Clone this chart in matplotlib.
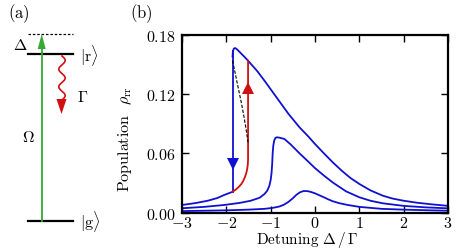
import numpy as np
import matplotlib
matplotlib.use("Agg")
import matplotlib.pyplot as plt
from matplotlib.patches import Polygon

plt.rcParams['font.family'] = ['cmr10', 'DejaVu Serif']
plt.rcParams['mathtext.fontset'] = 'cm'
plt.rcParams['axes.unicode_minus'] = False

BLUE = '#1010d0'
RED = '#d01010'
GREEN = '#33aa33'

# --- values ---
# strongest drive: lower stable branch, jump-up (red), upper branch
low_d = [-3.0, -2.7, -2.42, -2.2, -2.05, -1.95, -1.86]
low_r = [0.0077, 0.0096, 0.012, 0.0148, 0.0178, 0.0195, 0.0210]
red_d = [-1.86, -1.78, -1.72, -1.66, -1.62, -1.58, -1.55, -1.53, -1.515, -1.51, -1.51]
red_r = [0.0210, 0.0235, 0.026, 0.029, 0.032, 0.036, 0.040, 0.044, 0.049, 0.054, 0.1537]
up_d = [-1.86, -1.85, -1.83, -1.80, -1.76, -1.70, -1.60, -1.51, -1.30, -1.14, -0.81,
        -0.60, -0.35, -0.15, 0.0, 0.2, 0.4, 0.6, 0.8, 1.0, 1.25, 1.53, 1.75, 2.0,
        2.3, 2.6, 3.0]
up_r = [0.158, 0.1635, 0.1660, 0.1665, 0.1652, 0.1625, 0.1580, 0.1537, 0.1430,
        0.1335, 0.1130, 0.1000, 0.0863, 0.0770, 0.0694, 0.0600, 0.0509, 0.0425,
        0.0350, 0.0290, 0.0225, 0.0171, 0.0142, 0.0120, 0.0100, 0.0085, 0.0068]
jump_d = [-1.86, -1.86]
jump_r = [0.164, 0.0210]
dash_d = [-1.86, -1.80, -1.74, -1.67, -1.61, -1.56, -1.51]
dash_r = [0.1537, 0.141, 0.128, 0.113, 0.099, 0.086, 0.0711]

mid_d = [-3.0, -2.5, -2.05, -1.7, -1.45, -1.25, -1.14, -1.08, -1.03, -1.0, -0.98,
         -0.965, -0.955, -0.94, -0.92, -0.89, -0.86, -0.80, -0.69, -0.55, -0.35,
         -0.15, 0.0, 0.2, 0.4, 0.7, 1.0, 1.25, 1.53, 2.0, 2.5, 3.0]
mid_r = [0.0044, 0.0058, 0.0077, 0.0098, 0.0120, 0.0150, 0.0188, 0.0220, 0.0270,
         0.0330, 0.0400, 0.0500, 0.0600, 0.0680, 0.0730, 0.0757, 0.0762, 0.0758,
         0.0745, 0.0690, 0.0600, 0.0515, 0.0450, 0.0375, 0.0305, 0.0215, 0.0155,
         0.0120, 0.0094, 0.0068, 0.0053, 0.0043]

bot_d = [-3.0, -2.5, -2.0, -1.5, -1.14, -0.95, -0.80, -0.70, -0.60, -0.50, -0.42,
         -0.34, -0.26, -0.18, -0.10, 0.0, 0.1, 0.2, 0.3, 0.4, 0.55, 0.74, 1.0,
         1.5, 2.0, 2.5, 3.0]
bot_r = [0.0015, 0.0019, 0.0023, 0.0030, 0.0038, 0.0048, 0.0062, 0.0080, 0.0108,
         0.0145, 0.0180, 0.0205, 0.0218, 0.0218, 0.0210, 0.0195, 0.0175, 0.0155,
         0.0134, 0.0115, 0.0095, 0.0077, 0.0058, 0.0038, 0.0030, 0.0024, 0.0019]

up_arrow = (-1.51, 0.126)
down_arrow = (-1.86, 0.049)

xticks = [-3, -2, -1, 0, 1, 2, 3]
yticks = [0.0, 0.06, 0.12, 0.18]

W, H = 457, 251
fig = plt.figure(figsize=(W / 100, H / 100), dpi=100)

# --- panel (a): level scheme, drawn in pixel coordinates ---
axa = fig.add_axes([0, 0, 1, 1])
axa.set_xlim(0, W)
axa.set_ylim(H, 0)
axa.axis('off')

axa.plot([28, 73], [35, 35], color='k', lw=0.9, ls=(0, (2, 1.5)))
axa.plot([28, 73], [55, 55], color='k', lw=1.6)
axa.plot([28, 73], [221.5, 221.5], color='k', lw=1.6)
axa.plot([41.7, 41.7], [221.5, 48], color=GREEN, lw=1.3)
axa.add_patch(Polygon([[37.7, 50], [45.7, 50], [41.7, 35]], closed=True,
                      color=GREEN, lw=0))
wy = np.linspace(57, 101, 200)
wx = 62 + 3.2 * np.sin((wy - 57) / 44 * 2.5 * 2 * np.pi)
axa.plot(wx, wy, color=RED, lw=1.2)
axa.add_patch(Polygon([[56.5, 100], [66.5, 100], [61.5, 115]], closed=True,
                      color=RED, lw=0))

fs = 11
axa.text(8, 14, r'$(\mathrm{a})$', fontsize=fs + 1, va='center', ha='left')
axa.text(130, 14, r'$(\mathrm{b})$', fontsize=fs + 1, va='center', ha='left')
axa.text(13, 46, r'$\Delta$', fontsize=fs + 0.5, va='center', ha='left')
axa.text(80, 55, r'$|\mathrm{r}\rangle$', fontsize=fs + 0.5, va='center', ha='left')
axa.text(80, 221.5, r'$|\mathrm{g}\rangle$', fontsize=fs + 0.5, va='center', ha='left')
axa.text(77, 98, r'$\Gamma$', fontsize=fs + 0.5, va='center', ha='left')
axa.text(22, 138, r'$\Omega$', fontsize=fs + 0.5, va='center', ha='left')

# --- panel (b) ---
ax = fig.add_axes([182 / W, 1 - 213.6 / H, 266 / W, 177.9 / H])
lw = 1.3
ax.plot(low_d, low_r, color=BLUE, lw=lw)
ax.plot(up_d, up_r, color=BLUE, lw=lw)
ax.plot(jump_d, jump_r, color=BLUE, lw=lw)
ax.plot(red_d, red_r, color=RED, lw=lw)
ax.plot(dash_d, dash_r, color='k', lw=0.8, ls=(0, (3, 1.5)))
ax.plot(mid_d, mid_r, color=BLUE, lw=lw)
ax.plot(bot_d, bot_r, color=BLUE, lw=lw)
ax.plot(*up_arrow, marker='^', color=RED, ms=8, mew=0)
ax.plot(*down_arrow, marker='v', color=BLUE, ms=8, mew=0)

ax.set_xlim(-3, 3)
ax.set_ylim(0, 0.18)
ax.set_xticks(xticks)
ax.set_xticklabels([r'$%d$' % t for t in xticks])
ax.set_yticks(yticks)
ax.set_yticklabels([r'$%.2f$' % t for t in yticks])
ax.tick_params(direction='in', top=True, right=True, length=5, width=1,
               labelsize=fs + 0.5)
ax.tick_params(axis='x', pad=1.5)
ax.tick_params(axis='y', pad=4.5)
for s in ax.spines.values():
    s.set_linewidth(1.6)

ax.set_ylabel(r'Population  $\rho_{\mathrm{rr}}$', fontsize=fs + 0.5)
ax.yaxis.set_label_coords(-0.18, 0.42)
ax.set_xlabel(r'Detuning $\Delta\,/\,\Gamma$', fontsize=fs)
ax.xaxis.label.set_va('bottom')
ax.xaxis.set_label_coords(0.47, -0.205)

fig.savefig('out.png', dpi=100)
